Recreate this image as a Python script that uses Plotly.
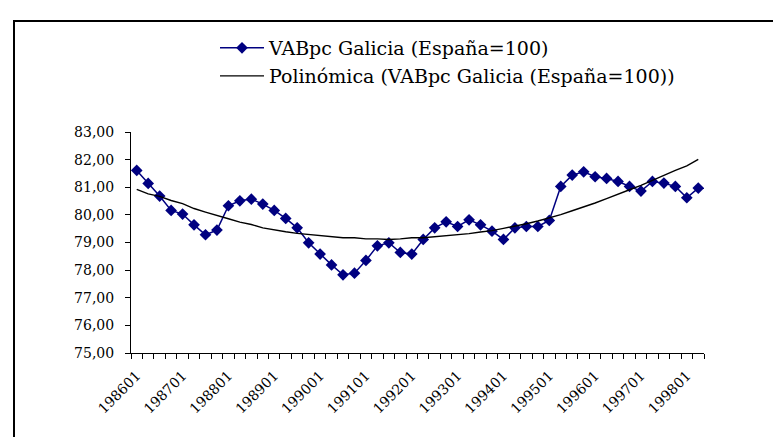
import plotly.graph_objects as go

periods = [f"{y}0{q}" for y in range(1986, 1999) for q in range(1, 5)][:50]
tick_labels = [f"{y}01" for y in range(1986, 1999)]

vab_galicia = [81.61, 81.14, 80.68, 80.16, 80.03, 79.64, 79.28, 79.45, 80.33, 80.51,
               80.57, 80.39, 80.16, 79.87, 79.53, 78.99, 78.58, 78.19, 77.83, 77.89,
               78.35, 78.88, 78.99, 78.64, 78.58, 79.11, 79.53, 79.75, 79.58, 79.82,
               79.64, 79.41, 79.11, 79.53, 79.58, 79.58, 79.80, 81.03, 81.44, 81.56,
               81.38, 81.32, 81.21, 81.03, 80.86, 81.21, 81.15, 81.03, 80.62, 80.97]

trend_poly = [80.92, 80.76, 80.67, 80.52, 80.41, 80.23, 80.10, 79.99, 79.86, 79.74,
              79.65, 79.53, 79.45, 79.39, 79.33, 79.29, 79.24, 79.20, 79.17, 79.17,
              79.13, 79.13, 79.11, 79.13, 79.17, 79.17, 79.21, 79.23, 79.27, 79.32,
              79.38, 79.43, 79.51, 79.59, 79.68, 79.78, 79.89, 80.01, 80.15, 80.28,
              80.43, 80.59, 80.74, 80.91, 81.07, 81.25, 81.44, 81.61, 81.77, 82.01]

xs = list(range(len(periods)))
tick_pos = [periods.index(t) for t in tick_labels]

W, H = 781, 437
L, R, T, B = 123, 696, 124, 345

fig = go.Figure()
fig.add_trace(go.Scatter(
    x=xs, y=vab_galicia, mode="lines+markers",
    name="VABpc Galicia (España=100)",
    line=dict(color="#000080", width=1.5),
    marker=dict(symbol="diamond", size=9, color="#000080"),
    legend="legend",
))
fig.add_trace(go.Scatter(
    x=xs, y=trend_poly, mode="lines",
    name="Polinómica (VABpc Galicia (España=100))",
    line=dict(color="black", width=1.4),
    legend="legend2",
))

pw, ph = R - L, B - T
def px_x(v):
    return (v - L) / pw
def px_y(v):
    return (B - v) / ph

fig.add_shape(type="rect", xref="paper", yref="paper",
              x0=px_x(6), x1=px_x(800), y0=px_y(460), y1=px_y(13),
              line=dict(color="black", width=2), fillcolor="rgba(0,0,0,0)")

font = "DejaVu Serif"
fig.update_layout(
    width=W, height=H,
    margin=dict(l=L, r=W - R, t=T, b=H - B, pad=0),
    paper_bgcolor="white", plot_bgcolor="white",
    separators=",.",
    font=dict(family=font, size=14, color="black"),
    showlegend=True,
    legend=dict(x=px_x(207), y=px_y(21), xanchor="left", yanchor="top",
                font=dict(family=font, size=19, color="black"),
                bgcolor="rgba(0,0,0,0)", itemwidth=44),
    legend2=dict(x=px_x(207), y=px_y(49), xanchor="left", yanchor="top",
                 font=dict(family=font, size=19, color="black"),
                 bgcolor="rgba(0,0,0,0)", itemwidth=44),
    xaxis=dict(
        range=[-0.5, len(periods) - 0.5], showgrid=False, zeroline=False,
        showline=True, linecolor="black", linewidth=1,
        tickmode="array", tickvals=tick_pos, ticktext=tick_labels,
        tickangle=-45, ticks="", ticklen=0, ticklabelstandoff=8,
        tickfont=dict(family=font, size=14, color="black"),
        minor=dict(tick0=-0.5, dtick=1, ticks="outside", ticklen=5,
                   tickcolor="black", tickwidth=1, showgrid=False),
    ),
    yaxis=dict(
        range=[75, 83], dtick=1, tick0=75, tickformat=".2f",
        showgrid=False, zeroline=False, showline=True, linecolor="black", linewidth=1,
        ticks="outside", ticklen=5, tickcolor="black", ticklabelstandoff=8,
        tickfont=dict(family=font, size=14, color="black"),
    ),
)

fig.write_html("out.html")
